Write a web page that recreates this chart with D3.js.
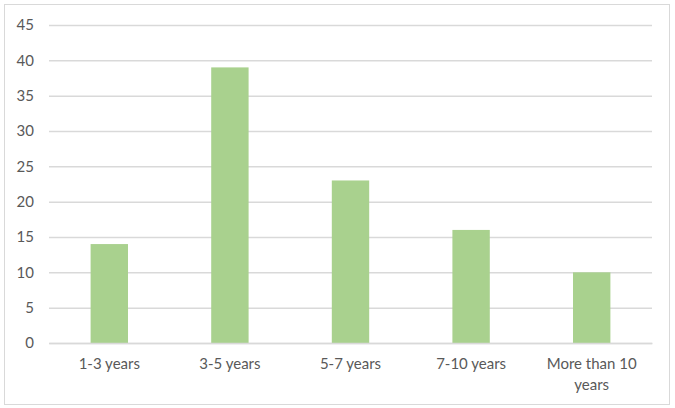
<!DOCTYPE html>
<html><head><meta charset="utf-8">
<script src="https://cdn.jsdelivr.net/npm/d3@7"></script>
<style>body{margin:0;background:#fff}svg{display:block}</style>
</head><body>
<script>
const categories = ["1-3 years","3-5 years","5-7 years","7-10 years","More than 10 years"];
const values = [14, 39, 23, 16, 10];
const yTicks = [0,5,10,15,20,25,30,35,40,45];

(function(){
const W = 675, H = 408;
const svg = d3.select("body").append("svg").attr("width", W).attr("height", H);
svg.append("rect").attr("x",4.5).attr("y",4.5).attr("width",665).attr("height",400)
  .attr("fill","#fff").attr("stroke","#d9d9d9").attr("stroke-width",1);

const mLeft = 49, mRight = 652, mTop = 25, mBottom = 343;
const x = d3.scaleBand().domain(categories).range([mLeft, mRight]).paddingInner(0.69).paddingOuter(0.345);
const y = d3.scaleLinear().domain([0,45]).range([mBottom, mTop]);

const font = "Lato, 'Open Sans', sans-serif";
const yAxis = svg.append("g").attr("transform",`translate(${mLeft},0)`)
  .call(d3.axisLeft(y).tickValues(yTicks).tickSize(-(mRight-mLeft)).tickPadding(15));
yAxis.select(".domain").remove();
yAxis.selectAll(".tick line").attr("stroke","#d9d9d9").attr("stroke-width",1.5);
yAxis.selectAll(".tick text").attr("fill","#595959").attr("font-size",15).attr("font-family",font);

svg.append("g").selectAll("rect").data(values).join("rect")
  .attr("x",(d,i)=>x(categories[i])).attr("width",x.bandwidth())
  .attr("y",d=>y(d)).attr("height",d=>y(0)-y(d)).attr("fill","#a9d18e");

const xAxis = svg.append("g").attr("transform",`translate(0,${mBottom})`)
  .call(d3.axisBottom(x).tickSize(0).tickPadding(0));
xAxis.select(".domain").attr("stroke","#d9d9d9").attr("stroke-width",1.5);
xAxis.selectAll(".tick text").remove();
xAxis.selectAll(".tick").each(function(d){
  const g = d3.select(this);
  const lines = d === "More than 10 years" ? ["More than 10","years"] : [d];
  lines.forEach((t,i)=>{
    g.append("text").attr("y", 26 + i*21).attr("text-anchor","middle")
      .attr("fill","#595959").attr("font-size",15).attr("font-family",font).text(t);
  });
});
})();
</script>
</body></html>
